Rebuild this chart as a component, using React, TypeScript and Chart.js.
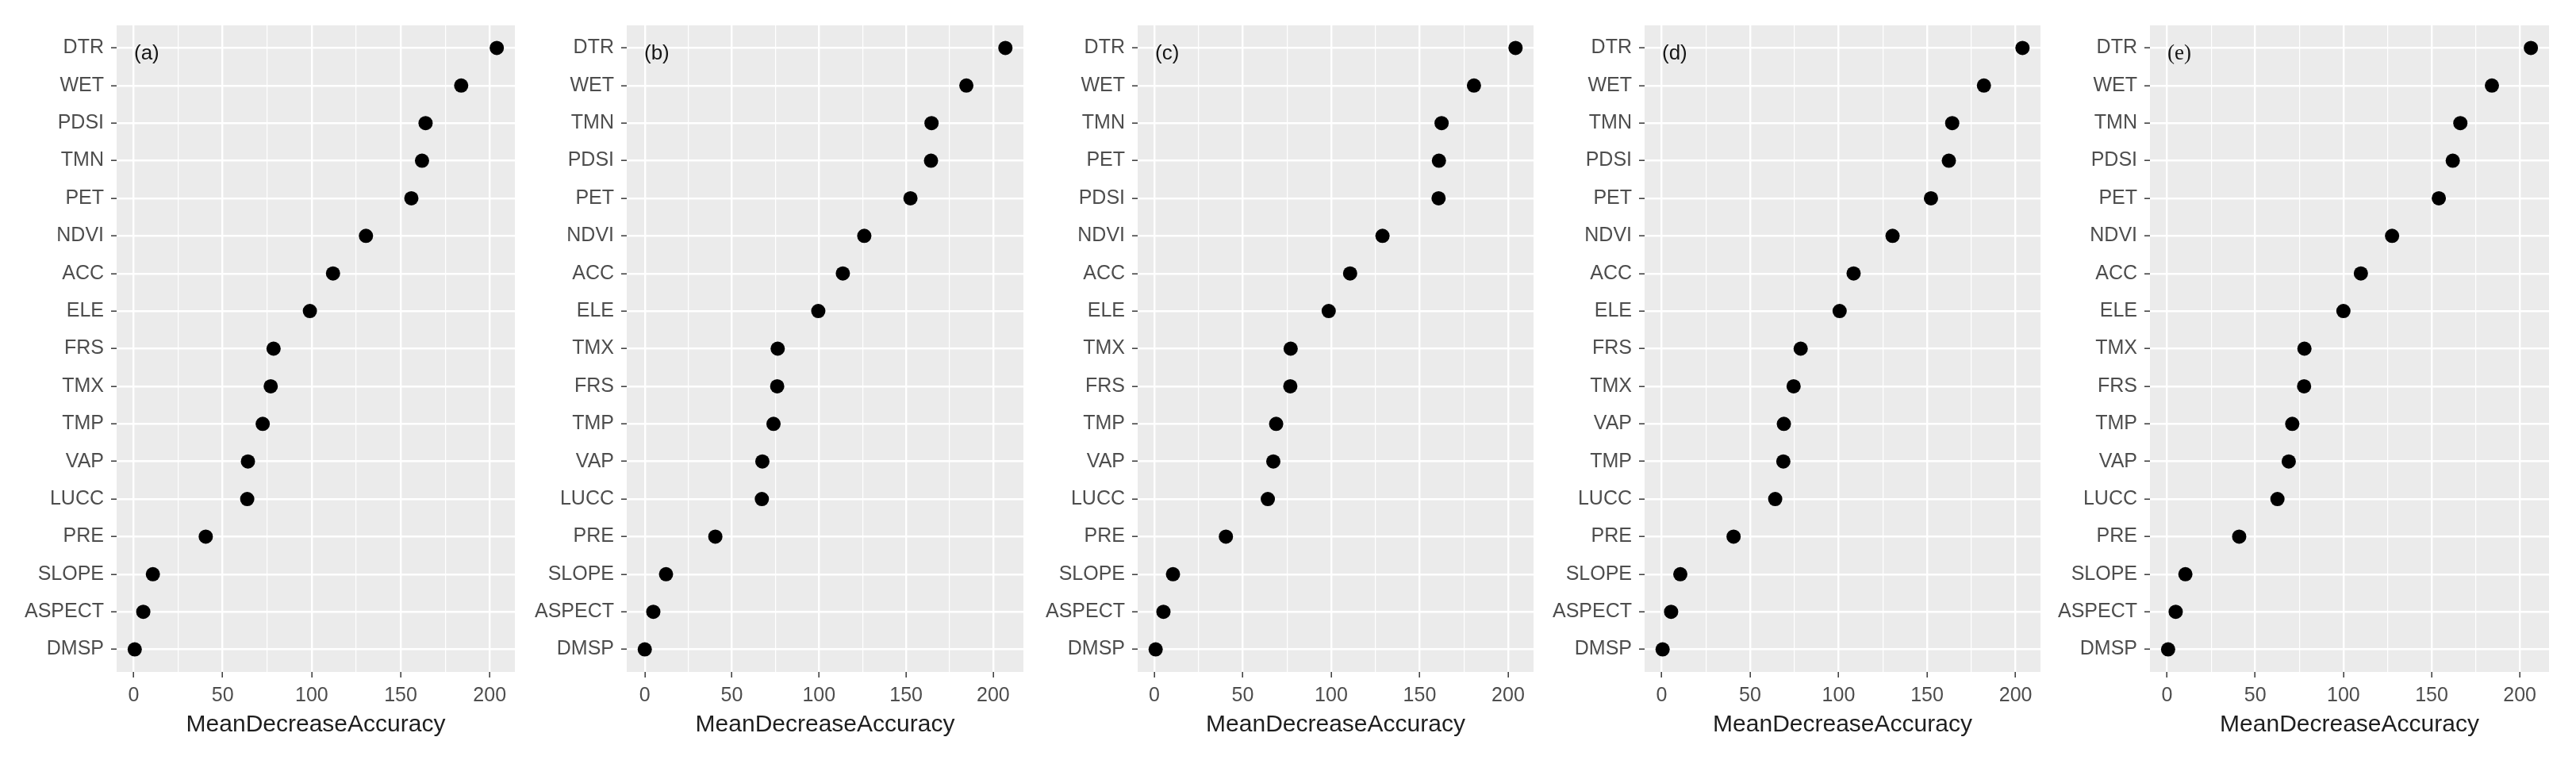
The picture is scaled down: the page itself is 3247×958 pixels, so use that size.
import React, { useEffect, useRef } from "react";
import { Chart, registerables } from "chart.js";

Chart.register(...registerables);

// ---------------- data ----------------
const panelLabels = ["(a)", "(b)", "(c)", "(d)", "(e)"];

const variablesA = ["DTR", "WET", "PDSI", "TMN", "PET", "NDVI", "ACC", "ELE", "FRS", "TMX", "TMP", "VAP", "LUCC", "PRE", "SLOPE", "ASPECT", "DMSP"];
const valuesA = [204, 184, 164, 162, 156, 130.5, 112, 99, 78.6, 77, 72.5, 64.2, 63.8, 40.5, 10.8, 5.4, 0.6];

const variablesB = ["DTR", "WET", "TMN", "PDSI", "PET", "NDVI", "ACC", "ELE", "TMX", "FRS", "TMP", "VAP", "LUCC", "PRE", "SLOPE", "ASPECT", "DMSP"];
const valuesB = [207, 184.6, 164.6, 164.3, 152.5, 126, 113.7, 99.6, 76.3, 76.0, 73.9, 67.5, 67.2, 40.5, 12.2, 4.9, 0];

const variablesC = ["DTR", "WET", "TMN", "PET", "PDSI", "NDVI", "ACC", "ELE", "TMX", "FRS", "TMP", "VAP", "LUCC", "PRE", "SLOPE", "ASPECT", "DMSP"];
const valuesC = [204.2, 180.7, 162.4, 160.9, 160.7, 129, 110.7, 98.6, 77.1, 76.9, 68.9, 67.3, 64.2, 40.5, 10.6, 5.2, 0.8];

const variablesD = ["DTR", "WET", "TMN", "PDSI", "PET", "NDVI", "ACC", "ELE", "FRS", "TMX", "VAP", "TMP", "LUCC", "PRE", "SLOPE", "ASPECT", "DMSP"];
const valuesD = [203.9, 182.1, 164.2, 162.3, 152.2, 130.5, 108.5, 100.6, 78.6, 74.6, 69.1, 68.8, 64.2, 40.7, 10.6, 5.4, 0.6];

const variablesE = ["DTR", "WET", "TMN", "PDSI", "PET", "NDVI", "ACC", "ELE", "TMX", "FRS", "TMP", "VAP", "LUCC", "PRE", "SLOPE", "ASPECT", "DMSP"];
const valuesE = [206.3, 184.2, 166.3, 162, 154.1, 127.6, 109.9, 100, 77.9, 77.7, 71, 69, 62.6, 40.9, 10.4, 4.9, 0.6];

const majorTicks = [0, 50, 100, 150, 200];
const minorTicks = [25, 75, 125, 175];
const axisTitle = "MeanDecreaseAccuracy";

// ---------------- layout / style ----------------
const W = 3247;
const H = 958;
const plotLeft = [147, 790, 1434, 2073, 2710];
const plotRight = [649, 1290, 1933, 2572, 3213];
const Y_AXIS_W = 147;
const RIGHT_PAD = 12;
const PLOT_TOP = 32;
const X_AXIS_H = 111;
const SANS = "'Liberation Sans', Arial, Helvetica, sans-serif";

const panelBg = {
  id: "panelBg",
  beforeDraw(chart: any) {
    const { ctx, chartArea } = chart;
    ctx.save();
    ctx.fillStyle = "#EBEBEB";
    ctx.fillRect(chartArea.left, chartArea.top, chartArea.right - chartArea.left, chartArea.bottom - chartArea.top);
    ctx.restore();
  },
};

const panelTag = {
  id: "panelTag",
  afterDraw(chart: any, _args: any, opts: any) {
    const { ctx, chartArea } = chart;
    ctx.save();
    ctx.fillStyle = "#151515";
    ctx.font = opts.font;
    ctx.textAlign = "left";
    ctx.textBaseline = "middle";
    ctx.fillText(opts.text, chartArea.left + 22, chartArea.top + 36);
    ctx.restore();
  },
};

function DotPanel(props: { idx: number; labels: string[]; values: number[] }) {
  const ref = useRef<HTMLCanvasElement>(null);
  const { idx, labels, values } = props;
  const cw = plotRight[idx] - plotLeft[idx] + Y_AXIS_W + RIGHT_PAD;

  useEffect(() => {
    const canvas = ref.current;
    if (!canvas) return;
    const dmin = Math.min(...values);
    const dmax = Math.max(...values);
    const pad = 0.05 * (dmax - dmin);
    const allTicks = [...majorTicks, ...minorTicks].sort((a, b) => a - b);
    const isMajor = (v: number) => majorTicks.includes(v);

    const chart = new Chart(canvas, {
      type: "scatter",
      data: {
        datasets: [
          {
            data: values.map((v, i) => ({ x: v, y: i })),
            backgroundColor: "#000000",
            borderColor: "#000000",
            borderWidth: 0,
            pointRadius: 9,
            pointHoverRadius: 9,
          },
        ],
      },
      options: {
        responsive: false,
        maintainAspectRatio: false,
        animation: false,
        devicePixelRatio: 1,
        layout: { padding: { top: PLOT_TOP, left: 0, right: RIGHT_PAD, bottom: 0 } },
        plugins: {
          legend: { display: false },
          tooltip: { enabled: false },
          panelTag: {
            text: panelLabels[idx],
            font: idx === 4 ? "27px 'Liberation Serif', 'Times New Roman', serif" : `26px ${SANS}`,
          },
        } as any,
        scales: {
          x: {
            type: "linear",
            min: dmin - pad,
            max: dmax + pad,
            afterBuildTicks: (s: any) => {
              s.ticks = allTicks.map((v) => ({ value: v }));
            },
            afterFit: (s: any) => {
              s.height = X_AXIS_H;
            },
            border: { display: false },
            grid: {
              color: "#FFFFFF",
              lineWidth: (c: any) => (c.tick && isMajor(c.tick.value) ? 2.4 : 1.2),
              drawTicks: true,
              tickLength: 7,
              tickWidth: 1.6,
              tickColor: (c: any) => (c.tick && isMajor(c.tick.value) ? "#444444" : "rgba(0,0,0,0)"),
            },
            ticks: {
              autoSkip: false,
              maxRotation: 0,
              padding: 8,
              color: "#4D4D4D",
              font: { family: SANS, size: 25 },
              callback: (v: any) => (isMajor(Number(v)) ? String(v) : ""),
            },
            title: {
              display: true,
              text: axisTitle,
              color: "#1E1E1E",
              font: { family: SANS, size: 30 },
              padding: { top: 0, bottom: 26 },
            },
          },
          y: {
            type: "linear",
            reverse: true,
            min: -0.6,
            max: labels.length - 1 + 0.6,
            afterBuildTicks: (s: any) => {
              s.ticks = labels.map((_, i) => ({ value: i }));
            },
            afterFit: (s: any) => {
              s.width = Y_AXIS_W;
            },
            border: { display: false },
            grid: {
              color: "#FFFFFF",
              lineWidth: 2.4,
              drawTicks: true,
              tickLength: 7,
              tickWidth: 1.6,
              tickColor: "#444444",
            },
            ticks: {
              autoSkip: false,
              padding: 9,
              color: "#4D4D4D",
              font: { family: SANS, size: 25 },
              callback: (v: any) => labels[Math.round(Number(v))] ?? "",
            },
          },
        },
      },
      plugins: [panelBg, panelTag],
    } as any);
    return () => chart.destroy();
  }, [idx, labels, values]);

  return (
    <canvas
      ref={ref}
      width={cw}
      height={H}
      style={{ position: "absolute", left: plotLeft[idx] - Y_AXIS_W, top: 0, width: cw, height: H }}
    />
  );
}

const panelVariables = [variablesA, variablesB, variablesC, variablesD, variablesE];
const panelValues = [valuesA, valuesB, valuesC, valuesD, valuesE];

export default function App() {
  return (
    <div style={{ position: "absolute", left: 0, top: 0, width: W, height: H, background: "#FFFFFF", overflow: "hidden" }}>
      {panelVariables.map((labels, i) => (
        <DotPanel key={i} idx={i} labels={labels} values={panelValues[i]} />
      ))}
    </div>
  );
}
